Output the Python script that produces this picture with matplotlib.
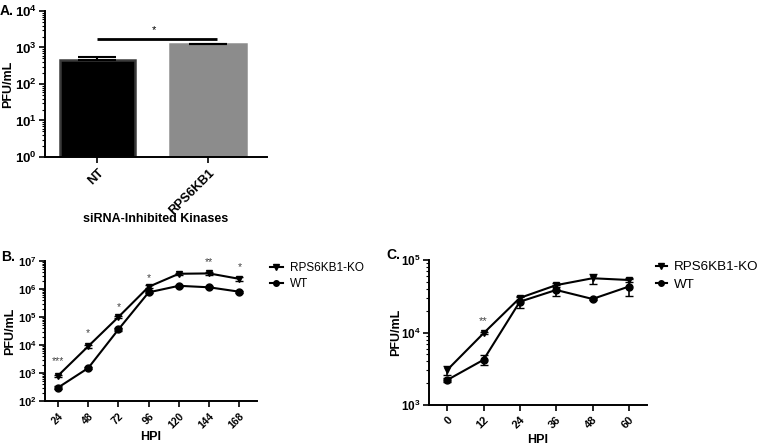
import matplotlib
matplotlib.use("Agg")
import matplotlib.pyplot as plt
from matplotlib.ticker import FuncFormatter, LogLocator, NullFormatter, FixedLocator
from matplotlib.lines import Line2D
import numpy as np

plt.rcParams['font.family'] = ['Liberation Sans', 'DejaVu Sans']
plt.rcParams['mathtext.fontset'] = 'custom'
plt.rcParams['mathtext.rm'] = 'Liberation Sans'
plt.rcParams['mathtext.bf'] = 'Liberation Sans:bold'

# ---------------- Data ----------------
# Panel A
a_categories = ['NT', 'RPS6KB1']
a_values = [455, 1220]
a_errors = [100, 40]
a_colors = ['#000000', '#8c8c8c']

# Panel B
b_hpi = [24, 48, 72, 96, 120, 144, 168]
b_ko = [800, 9000, 100000, 1200000, 3500000, 3600000, 2300000]
b_ko_err = [80, 900, 10000, 150000, 300000, 350000, 300000]
b_wt = [300, 1500, 36000, 760000, 1300000, 1150000, 800000]
b_wt_err = [30, 150, 4000, 60000, 100000, 80000, 60000]
b_stars = ['***', '*', '*', '*', '', '**', '*']
b_star_y = [2700, 26000, 230000, 2400000, None, 8900000, 5900000]

# Panel C
c_hpi = [0, 12, 24, 36, 48, 60]
c_ko = [3040, 9750, 30000, 45000, 56000, 53000]
c_ko_err = [450, 300, 2000, 3000, 9000, 4000]
c_wt = [2210, 4200, 26600, 38600, 29000, 43000]
c_wt_err = [150, 650, 4500, 6500, 1000, 11000]
c_stars = ['', '**', '', '', '', '']
c_star_y = [None, 14500, None, None, None, None]

legend_labels = ['RPS6KB1-KO', 'WT']

W, H = 760, 445
fig = plt.figure(figsize=(W / 100, H / 100), dpi=100)


def px_axes(left, top, right, bottom):
    return fig.add_axes([left / W, 1 - bottom / H, (right - left) / W, (bottom - top) / H])


def fig_xy(x, y):
    return (x / W, 1 - y / H)


def bold_pow(v, pos):
    if v <= 0:
        return ''
    e = int(round(np.log10(v)))
    return r'$\mathbf{10^{%d}}$' % e


def style_log_axis(ax, yfs, xfs):
    for s in ['top', 'right']:
        ax.spines[s].set_visible(False)
    for s in ['left', 'bottom']:
        ax.spines[s].set_linewidth(1.4)
    ax.set_yscale('log')
    ax.yaxis.set_major_locator(LogLocator(base=10, numticks=20))
    ax.yaxis.set_minor_locator(LogLocator(base=10, subs=np.arange(2, 10), numticks=50))
    ax.yaxis.set_major_formatter(FuncFormatter(bold_pow))
    ax.yaxis.set_minor_formatter(NullFormatter())
    ax.tick_params(axis='y', which='major', length=4, width=1.2, labelsize=yfs, pad=2)
    ax.tick_params(axis='y', which='minor', length=2, width=0.8)
    ax.tick_params(axis='x', which='major', length=4, width=1.2, labelsize=xfs, pad=3)


def place_labels(ax, xlab, ylab, xl_y, yl_x, fs=9):
    ax.set_xlabel(xlab, fontsize=fs, fontweight='bold')
    ax.set_ylabel(ylab, fontsize=fs, fontweight='bold')
    ax.xaxis.set_label_coords(0.5, xl_y)
    ax.xaxis.label.set_va('center')
    ax.yaxis.set_label_coords(yl_x, 0.5)
    ax.yaxis.label.set_va('center')


def legend_handles():
    return [Line2D([], [], color='black', marker='v', ms=4, lw=1.5),
            Line2D([], [], color='black', marker='o', ms=4, lw=1.5)]


# ---------------- Panel A ----------------
axA = px_axes(45, 11, 267, 157)
style_log_axis(axA, 9.5, 9.2)
xa = np.arange(len(a_categories))
axA.bar(xa, a_values, width=0.68, color=a_colors, edgecolor=['#3a3a3a', '#8c8c8c'],
        linewidth=1.8, bottom=1)
axA.errorbar(xa, a_values, yerr=[[0, 0], a_errors], fmt='none', ecolor='#000000',
             elinewidth=1.5, capsize=14, capthick=1.5)
axA.set_ylim(1, 1e4)
axA.set_xlim(-0.475, 1.534)
axA.set_xticks(xa)
axA.set_xticklabels(a_categories, rotation=45, ha='right', rotation_mode='anchor',
                    fontweight='bold')
place_labels(axA, 'siRNA-Inhibited Kinases', 'PFU/mL', (157 - 219) / 146, -0.167)
axA.plot([0, 1.08], [1700, 1700], color='black', lw=2, solid_capstyle='butt')
axA.text(0.51, 3000, '*', ha='center', va='center', fontsize=8)
fig.text(*fig_xy(0, 11), 'A.', fontsize=10, fontweight='bold', va='center', ha='left')

# ---------------- Panel B ----------------
axB = px_axes(45, 261, 257, 401)
style_log_axis(axB, 8, 7.5)
axB.errorbar(b_hpi, b_ko, yerr=b_ko_err, color='black', marker='v', ms=5, lw=1.5,
             capsize=3, elinewidth=1.2)
axB.errorbar(b_hpi, b_wt, yerr=b_wt_err, color='black', marker='o', ms=5, lw=1.5,
             capsize=3, elinewidth=1.2)
for x, s, y in zip(b_hpi, b_stars, b_star_y):
    if s:
        axB.text(x, y, s, ha='center', va='center', fontsize=7.5, color='#444444')
axB.set_ylim(1e2, 1e7)
axB.set_xlim(13.7, 182)
axB.xaxis.set_major_locator(FixedLocator(b_hpi))
axB.set_xticklabels([str(v) for v in b_hpi], rotation=45, ha='right',
                    rotation_mode='anchor', fontweight='bold')
place_labels(axB, 'HPI', 'PFU/mL', (401 - 437) / 140, -0.165)
fig.legend(legend_handles(), legend_labels, loc='upper left',
           bbox_to_anchor=fig_xy(270, 262), frameon=False, fontsize=8.5,
           handlelength=1.1, handletextpad=0.6, labelspacing=0.35,
           borderaxespad=0, borderpad=0)
fig.text(*fig_xy(1, 257), 'B.', fontsize=10, fontweight='bold', va='center', ha='left')

# ---------------- Panel C ----------------
axC = px_axes(429, 260, 647, 405)
style_log_axis(axC, 8.5, 8)
axC.errorbar(c_hpi, c_ko, yerr=c_ko_err, color='black', marker='v', ms=5, lw=1.5,
             capsize=3, elinewidth=1.2)
axC.errorbar(c_hpi, c_wt, yerr=c_wt_err, color='black', marker='o', ms=5, lw=1.5,
             capsize=3, elinewidth=1.2)
for x, s, y in zip(c_hpi, c_stars, c_star_y):
    if s:
        axC.text(x, y, s, ha='center', va='center', fontsize=8, color='#444444')
axC.set_ylim(1e3, 1e5)
axC.set_xlim(-6, 66)
axC.xaxis.set_major_locator(FixedLocator(c_hpi))
axC.set_xticklabels([str(v) for v in c_hpi], rotation=45, ha='right',
                    rotation_mode='anchor', fontweight='bold')
place_labels(axC, 'HPI', 'PFU/mL', (405 - 440) / 145, (396 - 429) / 218, fs=9)
fig.legend(legend_handles(), legend_labels, loc='upper left',
           bbox_to_anchor=fig_xy(656, 261), frameon=False, fontsize=9.6,
           handlelength=0.8, handletextpad=0.55, labelspacing=0.4,
           borderaxespad=0, borderpad=0)
fig.text(*fig_xy(386, 255), 'C.', fontsize=10, fontweight='bold', va='center', ha='left')

fig.savefig('out.png', dpi=100)
